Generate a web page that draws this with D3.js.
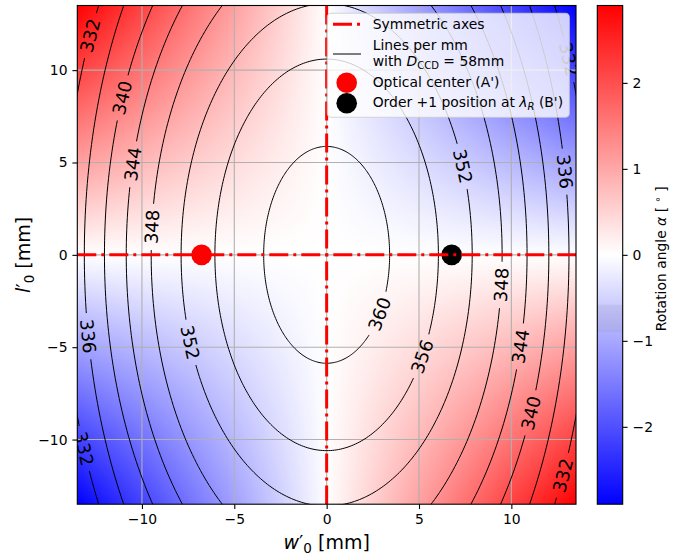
<!DOCTYPE html>
<html><head><meta charset="utf-8">
<script src="https://cdn.jsdelivr.net/npm/d3@7"></script>
<style>
body{margin:0;background:#fff;}
svg text{font-family:"DejaVu Sans",sans-serif;fill:#000;}
</style></head><body>
<svg id="chart" width="698" height="557"></svg>
<script>
// ---------- data ----------
const contourLevels = [360, 356, 352, 348, 344, 340, 336, 332];
const semiW = [3.41, 6.05, 7.88, 9.5, 10.85, 12.03, 13.12, 14.27];   // w'0 intercept (mm)
const semiL = [5.87, 10.6, 13.6, 16.8, 19.45, 21.7, 24.7, 26.9];     // l'0 intercept (mm)

const labelLevels = [332, 340, 344, 348, 336, 332, 352, 360, 356, 348, 344, 340, 332, 352, 336, 332];
const labelW = [-12.76, -11.17, -10.63, -9.55, -12.97, -13.01, -7.46, 2.82, 5.17, 9.45, 10.5, 11.08, 12.76, 7.5, 13.19, 13.09];
const labelL = [11.83, 8.58, 4.97, 1.53, -4.43, -10.39, -4.79, -3.16, -5.51, -1.63, -4.97, -8.58, -11.92, 4.88, 4.61, 10.57];

const gridW = [-13.5, 0, 13.5];
const gridL = [-13.5, 0, 13.5];
const alphaGrid = [      // rows follow gridL, columns follow gridW (degrees)
  [-2.9, 0, 2.9],
  [0, 0, 0],
  [2.9, 0, -2.9]
];

const pointW = [-6.77, 6.77];
const pointL = [0, 0];
const pointColors = ["#ff0000", "#000000"];

const xTicks = [-10, -5, 0, 5, 10];
const yTicks = [-10, -5, 0, 5, 10];
const cbTicks = [-2, -1, 0, 1, 2];
const extent = [-13.5, 13.5];
const alphaRange = [-2.9, 2.9];

// ---------- layout ----------
const svg = d3.select("#chart");
const L = 77.3, R = 576, T = 5.5, B = 504.2;
const x = d3.scaleLinear(extent, [L, R]);
const y = d3.scaleLinear(extent, [B, T]);
const cmap = d3.scaleLinear([alphaRange[0], 0, alphaRange[1]], ["#0000ff", "#ffffff", "#ff0000"]).clamp(true);

function bilinear(w, l) {
  let i = Math.min(Math.max(d3.bisectRight(gridW, w) - 1, 0), gridW.length - 2);
  let j = Math.min(Math.max(d3.bisectRight(gridL, l) - 1, 0), gridL.length - 2);
  const tx = (w - gridW[i]) / (gridW[i + 1] - gridW[i]);
  const ty = (l - gridL[j]) / (gridL[j + 1] - gridL[j]);
  const a = alphaGrid[j][i], b = alphaGrid[j][i + 1], c = alphaGrid[j + 1][i], d = alphaGrid[j + 1][i + 1];
  return a * (1 - tx) * (1 - ty) + b * tx * (1 - ty) + c * (1 - tx) * ty + d * tx * ty;
}

// heatmap image
const W = Math.round(R - L), H = Math.round(B - T);
const cv = document.createElement("canvas");
cv.width = W; cv.height = H;
const ctx = cv.getContext("2d");
const img = ctx.createImageData(W, H);
for (let j = 0; j < H; j++) {
  const l = y.invert(T + (j + 0.5) * (B - T) / H);
  for (let i = 0; i < W; i++) {
    const w = x.invert(L + (i + 0.5) * (R - L) / W);
    const c = d3.rgb(cmap(bilinear(w, l)));
    const k = 4 * (j * W + i);
    img.data[k] = c.r; img.data[k + 1] = c.g; img.data[k + 2] = c.b; img.data[k + 3] = 255;
  }
}
ctx.putImageData(img, 0, 0);

const defs = svg.append("defs");
defs.append("clipPath").attr("id", "plotclip").append("rect")
  .attr("x", L).attr("y", T).attr("width", R - L).attr("height", B - T);

svg.append("image").attr("x", L).attr("y", T).attr("width", R - L).attr("height", B - T)
  .attr("preserveAspectRatio", "none").attr("href", cv.toDataURL());

// grid
const grid = svg.append("g").attr("stroke", "#b0b0b0").attr("stroke-width", 1.1);
xTicks.forEach(v => grid.append("line").attr("x1", x(v)).attr("x2", x(v)).attr("y1", T).attr("y2", B));
yTicks.forEach(v => grid.append("line").attr("y1", y(v)).attr("y2", y(v)).attr("x1", L).attr("x2", R));

// contour labels (text first, to measure them)
const labelG = svg.append("g").attr("clip-path", "url(#plotclip)");
const mask = defs.append("mask").attr("id", "lblmask").attr("maskUnits", "userSpaceOnUse")
  .attr("x", 0).attr("y", 0).attr("width", 698).attr("height", 557);
mask.append("rect").attr("x", 0).attr("y", 0).attr("width", 698).attr("height", 557).attr("fill", "#fff");

labelLevels.forEach((lev, n) => {
  const k = contourLevels.indexOf(lev);
  const a = semiW[k], b = semiL[k];
  const th = Math.atan2(labelL[n] / b, labelW[n] / a);
  const px = x(a * Math.cos(th)), py = y(b * Math.sin(th));
  const dx = x(-a * Math.sin(th)) - x(0), dy = y(b * Math.cos(th)) - y(0);
  let ang = Math.atan2(dy, dx) * 180 / Math.PI;
  if (ang > 90) ang -= 180;
  if (ang <= -90) ang += 180;
  const t = labelG.append("text")
    .attr("transform", `translate(${px},${py}) rotate(${ang})`)
    .attr("text-anchor", "middle").attr("dy", "0.36em")
    .attr("font-size", "18px").text(lev);
  const tw = t.node().getComputedTextLength();
  mask.append("rect").attr("x", -tw / 2 - 6).attr("y", -9).attr("width", tw + 12).attr("height", 18)
    .attr("transform", `translate(${px},${py}) rotate(${ang})`).attr("fill", "#000");
});

// contour lines (ellipses)
const thetas = d3.range(0, 361, 1).map(d => d * Math.PI / 180);
const cg = svg.append("g").attr("clip-path", "url(#plotclip)").append("g").attr("mask", "url(#lblmask)");
contourLevels.forEach((lev, k) => {
  const line = d3.line().x(t => x(semiW[k] * Math.cos(t))).y(t => y(semiL[k] * Math.sin(t)));
  cg.append("path").attr("d", line(thetas)).attr("fill", "none").attr("stroke", "#000").attr("stroke-width", 1);
});

// points
svg.append("g").selectAll("circle").data(pointW).join("circle")
  .attr("cx", d => x(d)).attr("cy", (d, i) => y(pointL[i])).attr("r", 10.3)
  .attr("fill", (d, i) => pointColors[i]);

// symmetric axes
const dash = "19,5,3,5";
const sym = svg.append("g").attr("clip-path", "url(#plotclip)").attr("stroke", "#ff0000")
  .attr("stroke-width", 3).attr("stroke-dasharray", dash).attr("fill", "none");
sym.append("line").attr("x1", x(extent[0])).attr("x2", x(extent[1])).attr("y1", y(0)).attr("y2", y(0));
sym.append("line").attr("x1", x(0)).attr("x2", x(0)).attr("y1", y(extent[1])).attr("y2", y(extent[0]));

// frame
svg.append("rect").attr("x", L).attr("y", T).attr("width", R - L).attr("height", B - T)
  .attr("fill", "none").attr("stroke", "#000").attr("stroke-width", 1.1);

// axes
const fs = "13.9px";
const xAxis = svg.append("g").attr("transform", `translate(0,${B})`)
  .call(d3.axisBottom(x).tickValues(xTicks).tickSize(4.9).tickPadding(4.9).tickFormat(d3.format("d")));
const yAxis = svg.append("g").attr("transform", `translate(${L},0)`)
  .call(d3.axisLeft(y).tickValues(yTicks).tickSize(4.9).tickPadding(4.9).tickFormat(d3.format("d")));
[xAxis, yAxis].forEach(g => {
  g.select(".domain").remove();
  g.selectAll("line").attr("stroke", "#000").attr("stroke-width", 1.1);
  g.selectAll("text").attr("font-size", fs).attr("font-family", "DejaVu Sans");
});

// axis labels
const xl = svg.append("text").attr("x", x(0)).attr("y", 549).attr("text-anchor", "middle").attr("font-size", "19px");
xl.append("tspan").attr("font-style", "italic").text("w");
xl.append("tspan").text("′");
xl.append("tspan").attr("dy", 4).attr("font-size", "13.5px").text("0");
xl.append("tspan").attr("dy", -4).text(" [mm]");

const yl = svg.append("text").attr("transform", `translate(30,${y(0)}) rotate(-90)`).attr("text-anchor", "middle").attr("font-size", "19px");
yl.append("tspan").attr("font-style", "italic").text("l");
yl.append("tspan").text("′");
yl.append("tspan").attr("dy", 4).attr("font-size", "13.5px").text("0");
yl.append("tspan").attr("dy", -4).text(" [mm]");

// legend
const lg = svg.append("g");
lg.append("rect").attr("x", 327.3).attr("y", 13.3).attr("width", 242).attr("height", 104).attr("rx", 4)
  .attr("fill", "#fff").attr("fill-opacity", 0.8).attr("stroke", "#cccccc").attr("stroke-opacity", 0.8).attr("stroke-width", 1.1);
lg.append("line").attr("x1", 333).attr("x2", 361).attr("y1", 24.3).attr("y2", 24.3)
  .attr("stroke", "#ff0000").attr("stroke-width", 3).attr("stroke-dasharray", dash);
lg.append("line").attr("x1", 333).attr("x2", 361).attr("y1", 54).attr("y2", 54).attr("stroke", "#000").attr("stroke-width", 1);
lg.append("circle").attr("cx", 346.7).attr("cy", 82.7).attr("r", 10.3).attr("fill", pointColors[0]);
lg.append("circle").attr("cx", 346.7).attr("cy", 103.3).attr("r", 10.3).attr("fill", pointColors[1]);
const tx0 = 372.7;
lg.append("text").attr("x", tx0).attr("y", 29.3).attr("font-size", fs).text("Symmetric axes");
lg.append("text").attr("x", tx0).attr("y", 49.5).attr("font-size", fs).text("Lines per mm");
const t2 = lg.append("text").attr("x", tx0).attr("y", 66).attr("font-size", fs);
t2.append("tspan").text("with ");
t2.append("tspan").attr("font-style", "italic").text("D");
t2.append("tspan").attr("dy", 3).attr("font-size", "10px").text("CCD");
t2.append("tspan").attr("dy", -3).text(" = 58mm");
lg.append("text").attr("x", tx0).attr("y", 87).attr("font-size", fs).text("Optical center (A')");
const t4 = lg.append("text").attr("x", tx0).attr("y", 107).attr("font-size", fs);
t4.append("tspan").text("Order +1 position at ");
t4.append("tspan").attr("font-style", "italic").text("λ");
t4.append("tspan").attr("dy", 3).attr("font-size", "10px").attr("font-style", "italic").text("R");
t4.append("tspan").attr("dy", -3).text(" (B')");

// colorbar
const CL = 597.3, CR = 622.7;
const cy = d3.scaleLinear(alphaRange, [B, T]);
const grad = defs.append("linearGradient").attr("id", "cbgrad").attr("x1", 0).attr("x2", 0).attr("y1", 1).attr("y2", 0);
d3.range(0, 1.0001, 0.05).forEach(f => {
  const v = alphaRange[0] + f * (alphaRange[1] - alphaRange[0]);
  grad.append("stop").attr("offset", f).attr("stop-color", cmap(v));
});
svg.append("rect").attr("x", CL).attr("y", T).attr("width", CR - CL).attr("height", B - T).attr("fill", "url(#cbgrad)");
svg.append("rect").attr("x", CL).attr("y", cy(-0.58)).attr("width", CR - CL).attr("height", cy(-0.9) - cy(-0.58))
  .attr("fill", "#8a8aa0").attr("fill-opacity", 0.16);
svg.append("rect").attr("x", CL).attr("y", T).attr("width", CR - CL).attr("height", B - T)
  .attr("fill", "none").attr("stroke", "#000").attr("stroke-width", 1.1);
const cAxis = svg.append("g").attr("transform", `translate(${CR},0)`)
  .call(d3.axisRight(cy).tickValues(cbTicks).tickSize(4.9).tickPadding(4.9).tickFormat(d3.format("d")));
cAxis.select(".domain").remove();
cAxis.selectAll("line").attr("stroke", "#000").attr("stroke-width", 1.1);
cAxis.selectAll("text").attr("font-size", fs).attr("font-family", "DejaVu Sans");

const cl = svg.append("text").attr("transform", `translate(666,${cy(0) + 4}) rotate(-90)`).attr("text-anchor", "middle").attr("font-size", fs);
cl.append("tspan").text("Rotation angle ");
cl.append("tspan").attr("font-style", "italic").text("α");
cl.append("tspan").text(" [ ");
cl.append("tspan").attr("dy", -5).attr("font-size", "10px").text("∘");
cl.append("tspan").attr("dy", 5).text(" ]");
</script>
</body></html>
